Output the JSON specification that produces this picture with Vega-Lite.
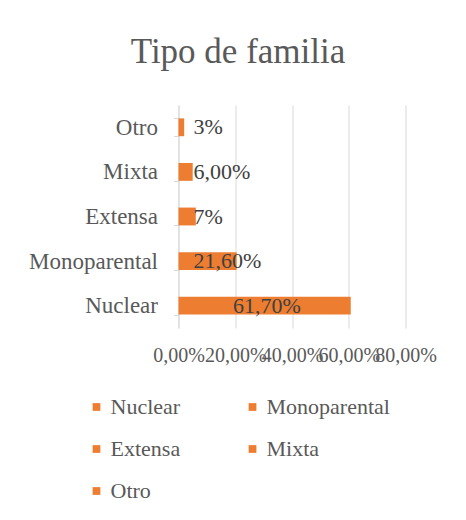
{
  "$schema": "https://vega.github.io/schema/vega-lite/v6.json",
  "autosize": "none",
  "width": 227,
  "height": 223,
  "padding": {"left": 178.5, "top": 105, "right": 60.5, "bottom": 192},
  "background": "white",
  "config": {
    "font": "Liberation Serif",
    "view": {"stroke": null}
  },
  "title": {
    "text": "Tipo de familia",
    "fontSize": 35,
    "fontWeight": "normal",
    "color": "#595959",
    "anchor": "middle",
    "frame": "group",
    "dx": -54,
    "offset": 24
  },
  "data": {
    "values": [
      {"tipo": "Nuclear", "valor": 0.607, "etiqueta": "61,70%"},
      {"tipo": "Monoparental", "valor": 0.205, "etiqueta": "21,60%"},
      {"tipo": "Extensa", "valor": 0.061, "etiqueta": "7%"},
      {"tipo": "Mixta", "valor": 0.05, "etiqueta": "6,00%"},
      {"tipo": "Otro", "valor": 0.02, "etiqueta": "3%"}
    ]
  },
  "encoding": {
    "y": {
      "field": "tipo",
      "type": "nominal",
      "sort": ["Otro", "Mixta", "Extensa", "Monoparental", "Nuclear"],
      "scale": {"paddingInner": 0.6, "paddingOuter": 0.3},
      "axis": {
        "title": null,
        "tickBand": "extent",
        "domainColor": "#d9d9d9",
        "tickColor": "#d9d9d9",
        "tickSize": 5,
        "labelPadding": 16,
        "labelFontSize": 23,
        "labelColor": "#595959",
        "labelFont": "Liberation Serif"
      }
    }
  },
  "layer": [
    {
      "mark": {"type": "bar", "color": "#ED7D31"},
      "encoding": {
        "x": {
          "field": "valor",
          "type": "quantitative",
          "scale": {"domain": [0, 0.8]},
          "axis": {
            "title": null,
            "values": [0, 0.2, 0.4, 0.6, 0.8],
            "labelExpr": "replace(format(datum.value, '.2%'), '.', ',')",
            "labelOverlap": false,
            "labelBound": false,
            "labelFlush": false,
            "labelAlign": "center",
            "grid": true,
            "gridColor": "#d9d9d9",
            "domain": false,
            "ticks": false,
            "labelPadding": 17,
            "labelFontSize": 20,
            "labelColor": "#595959",
            "labelFont": "Liberation Serif"
          }
        },
        "color": {
          "field": "tipo",
          "type": "nominal",
          "sort": ["Nuclear", "Monoparental", "Extensa", "Mixta", "Otro"],
          "scale": {"range": ["#ED7D31", "#ED7D31", "#ED7D31", "#ED7D31", "#ED7D31"]},
          "legend": {
            "title": null,
            "orient": "none",
            "legendX": -93,
            "legendY": 291,
            "direction": "horizontal",
            "columns": 2,
            "symbolType": "square",
            "symbolSize": 60,
            "labelFontSize": 22,
            "labelColor": "#595959",
            "labelFont": "Liberation Serif",
            "labelOffset": 3,
            "columnPadding": 61,
            "rowPadding": 20
          }
        }
      }
    },
    {
      "transform": [{"filter": "datum.tipo != 'Nuclear'"}],
      "mark": {"type": "text", "align": "left", "dx": 15, "fontSize": 22, "color": "#404040", "baseline": "middle"},
      "encoding": {
        "x": {"datum": 0},
        "text": {"field": "etiqueta"}
      }
    },
    {
      "transform": [{"filter": "datum.tipo == 'Nuclear'"}],
      "mark": {"type": "text", "align": "right", "dx": -50, "fontSize": 22, "color": "#404040", "baseline": "middle"},
      "encoding": {
        "x": {"field": "valor", "type": "quantitative"},
        "text": {"field": "etiqueta"}
      }
    }
  ]
}
